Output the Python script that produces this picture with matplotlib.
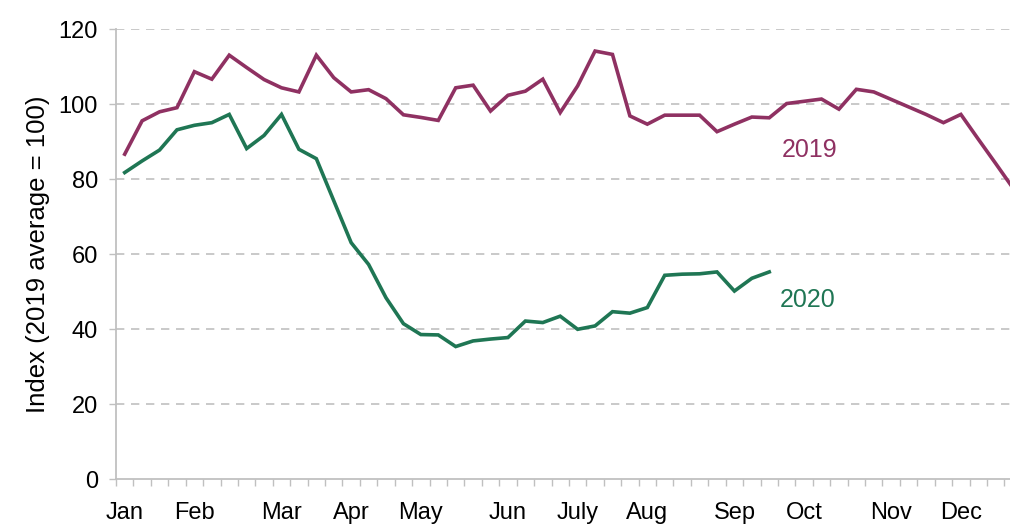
import numpy as np
import matplotlib
matplotlib.use("Agg")
import matplotlib.pyplot as plt

plt.rcParams['font.family'] = ['Liberation Sans', 'DejaVu Sans']

# weekly index values (2019 average = 100)
v2019 = [86.7, 95.6, 98.0, 99.1, 108.7, 106.7, 113.1, 109.8, 106.6, 104.4,
         103.3, 113.1, 107.1, 103.3, 103.9, 101.5, 97.2, 96.5, 95.7, 104.4,
         105.1, 98.2, 102.4, 103.5, 106.7, 97.8, 104.9, 114.2, 113.3, 96.9,
         94.7, 97.1, 97.1, 97.1, 92.7, 94.7, 96.6, 96.4, 100.2, 100.8,
         101.4, 98.7, 104.0, 103.3, 101.3, 99.3, 97.3, 95.1, 97.3, 90.7,
         84.2, 77.6, 71.0]
v2020 = [81.8, 84.9, 87.8, 93.2, 94.4, 95.1, 97.3, 88.2, 91.7, 97.3,
         88.0, 85.5, 74.3, 63.1, 57.3, 48.4, 41.5, 38.6, 38.5, 35.4,
         36.9, 37.4, 37.8, 42.2, 41.8, 43.5, 40.0, 40.9, 44.7, 44.3,
         45.8, 54.4, 54.7, 54.8, 55.3, 50.2, 53.6, 55.3]

months = ['Jan', 'Feb', 'Mar', 'Apr', 'May', 'Jun', 'July', 'Aug', 'Sep', 'Oct', 'Nov', 'Dec']
month_week = [0, 4, 9, 13, 17, 22, 26, 30, 35, 39, 44, 48]

c19 = '#8f3162'
c20 = '#1f7654'

fig = plt.figure(figsize=(10.1, 5.24), dpi=100)
ax = fig.add_axes([116 / 1010, 44.7 / 524, 894 / 1010, 450 / 524])

ax.plot(np.arange(len(v2019)), v2019, color=c19, lw=2.6, solid_joinstyle='miter')
ax.plot(np.arange(len(v2020)), v2020, color=c20, lw=2.6, solid_joinstyle='miter')

# series labels
ax.text(39.3, 87.8, '2019', color=c19, fontsize=18, ha='center', va='center')
ax.text(39.2, 47.8, '2020', color=c20, fontsize=18, ha='center', va='center')

ax.set_xlim(-0.5, 50.82)
ax.set_ylim(0, 120)

ax.set_yticks(np.arange(0, 121, 20))
for yv in range(20, 121, 20):
    ax.axhline(yv, color='#c0c0c0', lw=1.2, ls=(0, (5, 4)), zorder=0)

ax.set_xticks(month_week)
ax.set_xticklabels(months)
ax.set_xticks(np.arange(-0.5, 51, 1), minor=True)
ax.tick_params(axis='x', which='major', length=0, pad=16, labelsize=17)
ax.tick_params(axis='x', which='minor', length=5, color='#c0c0c0', width=1)
ax.tick_params(axis='y', length=5, color='#c0c0c0', width=1, labelsize=17, pad=8)

for s in ['top', 'right']:
    ax.spines[s].set_visible(False)
for s in ['left', 'bottom']:
    ax.spines[s].set_color('#c0c0c0')
    ax.spines[s].set_linewidth(1.3)

ax.set_ylabel('Index (2019 average = 100)', fontsize=18.5, labelpad=6)

fig.savefig('out.png', dpi=100)
